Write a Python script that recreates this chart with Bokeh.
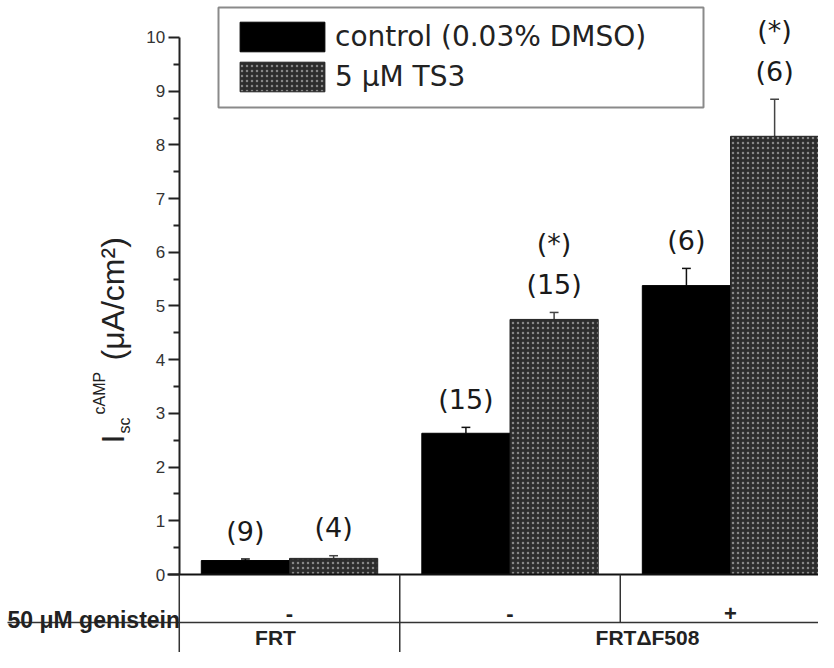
from math import pi
from bokeh.plotting import figure
from bokeh.models import Range1d, LinearAxis, FixedTicker, ColumnDataSource, Legend, LegendItem
from bokeh.core.properties import value
from bokeh.embed import file_html
from bokeh.resources import INLINE

# ---------------- data ----------------
conditions = ["FRT / -", "FRT\u0394F508 / -", "FRT\u0394F508 / +"]
control_mean = [0.26, 2.63, 5.38]
control_sem = [0.03, 0.11, 0.32]
ts3_mean = [0.30, 4.75, 8.16]
ts3_sem = [0.05, 0.13, 0.69]
control_n = ["(9)", "(15)", "(6)"]
ts3_n = ["(4)", "(15)", "(6)"]
ts3_sig = ["", "(*)", "(*)"]
genistein = ["-", "-", "+"]
cell_lines = ["FRT", "FRT\u0394F508"]
y_ticks = [0, 1, 2, 3, 4, 5, 6, 7, 8, 9, 10]
series_labels = ["control (0.03% DMSO)", "5 \u03bcM TS3"]
row_label = "50 \u03bcM genistein"

# ---------------- layout helpers ----------------
W, H = 818, 652
X0, X1 = -0.3107, 3.399
Y0, Y1 = -1.4525, 10.689


def dx(px):  # reference pixel -> data x
    return X0 + px * (X1 - X0) / W


def dy(py):  # reference pixel -> data y
    return Y1 - py * (Y1 - Y0) / H


FONT = value("Liberation Sans")
FONT2 = value("DejaVu Sans")
BAR_W = 0.4
centers = [i + 1 for i in range(len(conditions))]
xc = [c - BAR_W / 2 for c in centers]
xt = [c + BAR_W / 2 for c in centers]

p = figure(width=W, height=H, x_range=Range1d(X0, X1), y_range=Range1d(Y0, Y1),
           output_backend="svg", toolbar_location=None,
           x_axis_location=None, y_axis_location=None,
           min_border=0, outline_line_color=None)
p.grid.visible = False

# y axis placed at x = 0.5 (left edge of the table)
minor = [t + 0.5 for t in y_ticks[:-1]]
yaxis = LinearAxis(fixed_location=0.5, bounds=(0, 10),
                   ticker=FixedTicker(ticks=y_ticks, minor_ticks=minor))
yaxis.axis_line_width = 2
yaxis.axis_line_color = "#222222"
yaxis.major_tick_line_width = 2
yaxis.major_tick_line_color = "#222222"
yaxis.minor_tick_line_width = 2
yaxis.minor_tick_line_color = "#222222"
yaxis.major_tick_in = 0
yaxis.major_tick_out = 11
yaxis.minor_tick_in = 0
yaxis.minor_tick_out = 6
yaxis.major_label_text_font = "Liberation Sans"
yaxis.major_label_text_font_size = "17px"
yaxis.major_label_text_color = "#333333"
yaxis.major_label_standoff = 3
p.add_layout(yaxis, "left")

# legend frame
p.quad(left=[dx(218)], right=[dx(703)], top=[dy(7)], bottom=[dy(107)],
       fill_color="white", line_color="#8a8a8a", line_width=2)

# bars
src_c = ColumnDataSource(dict(x=xc, top=control_mean, err=[m + s for m, s in zip(control_mean, control_sem)]))
src_t = ColumnDataSource(dict(x=xt, top=ts3_mean, err=[m + s for m, s in zip(ts3_mean, ts3_sem)]))

# error bars (upper only)
cap = 0.02
p.segment(x0="x", y0="top", x1="x", y1="err", source=src_c, line_color="#111111", line_width=1.5)
p.segment(x0=[x - cap for x in xc], y0=src_c.data["err"], x1=[x + cap for x in xc], y1=src_c.data["err"],
          line_color="#111111", line_width=1.5)
p.segment(x0="x", y0="top", x1="x", y1="err", source=src_t, line_color="#444444", line_width=1.5)
p.segment(x0=[x - cap for x in xt], y0=src_t.data["err"], x1=[x + cap for x in xt], y1=src_t.data["err"],
          line_color="#444444", line_width=1.5)

r_c = p.vbar(x="x", top="top", width=BAR_W, bottom=0, source=src_c,
             fill_color="black", line_color="black", line_width=1)
r_t = p.vbar(x="x", top="top", width=BAR_W, bottom=0, source=src_t,
             fill_color="#2c2c2c", line_color="#222222", line_width=1,
             hatch_pattern="dot", hatch_color="#d0d0d0", hatch_alpha=0.55,
             hatch_scale=5, hatch_weight=1)

# n labels
off = 0.52
p.text(x=xc, y=[e + off for e in src_c.data["err"]], text=control_n, text_align="center",
       text_baseline="middle", text_font=FONT2, text_font_size="27px", text_color="#1a1a1a")
p.text(x=xt, y=[e + off for e in src_t.data["err"]], text=ts3_n, text_align="center",
       text_baseline="middle", text_font=FONT2, text_font_size="27px", text_color="#1a1a1a")
p.text(x=xt, y=[e + off + 0.76 for e in src_t.data["err"]], text=ts3_sig, text_align="center",
       text_baseline="middle", text_font=FONT2, text_font_size="27px", text_color="#1a1a1a")

# table lines
p.segment(x0=[dx(167)], y0=[0], x1=[X1], y1=[0], line_color="#111111", line_width=2)
p.segment(x0=[dx(7)], y0=[dy(622)], x1=[X1], y1=[dy(622)], line_color="#333333", line_width=1.5)
p.segment(x0=[0.5, 1.5, 2.5], y0=[0, 0, 0], x1=[0.5, 1.5, 2.5], y1=[Y0, Y0, dy(622)],
          line_color="#333333", line_width=1.5)

# table texts
p.text(x=centers, y=[dy(613)] * 3, text=genistein, text_align="center", text_baseline="middle",
       text_font=FONT, text_font_size="22px", text_font_style="bold", text_color="#222222")
p.text(x=[dx(7)], y=[dy(619)], text=[row_label], text_align="left", text_baseline="alphabetic",
       text_font=FONT, text_font_size="23px", text_font_style="bold", text_color="#222222")
p.text(x=[dx(275), dx(647)], y=[dy(637)] * 2, text=cell_lines, text_align="center",
       text_baseline="middle", text_font=FONT, text_font_size="21px", text_font_style="bold",
       text_color="#222222")

# y axis title built from pieces (rotated)
parts = ["I", "sc", "cAMP", "(\u03bcA/cm\u00b2)"]
part_sizes = ["32px", "16px", "16px", "32px"]
part_x = [dx(112), dx(124), dx(99), dx(112)]
part_y = [dy(443), dy(433), dy(414), dy(360)]
for t, s, x, y in zip(parts, part_sizes, part_x, part_y):
    p.text(x=[x], y=[y], text=[t], angle=pi / 2, text_align="left", text_baseline="alphabetic",
           text_font=FONT, text_font_size=s, text_color="#222222")

legend = Legend(items=[LegendItem(label=series_labels[0], renderers=[r_c]),
                       LegendItem(label=series_labels[1], renderers=[r_t])],
                location=(218, 546), padding=11, spacing=3, glyph_width=106, glyph_height=37,
                label_height=37, label_standoff=0,
                label_text_font="DejaVu Sans", label_text_font_size="28px",
                label_text_color="#222222", border_line_alpha=0,
                background_fill_alpha=0)
p.add_layout(legend)

open("out.html", "w").write(file_html(p, INLINE))
